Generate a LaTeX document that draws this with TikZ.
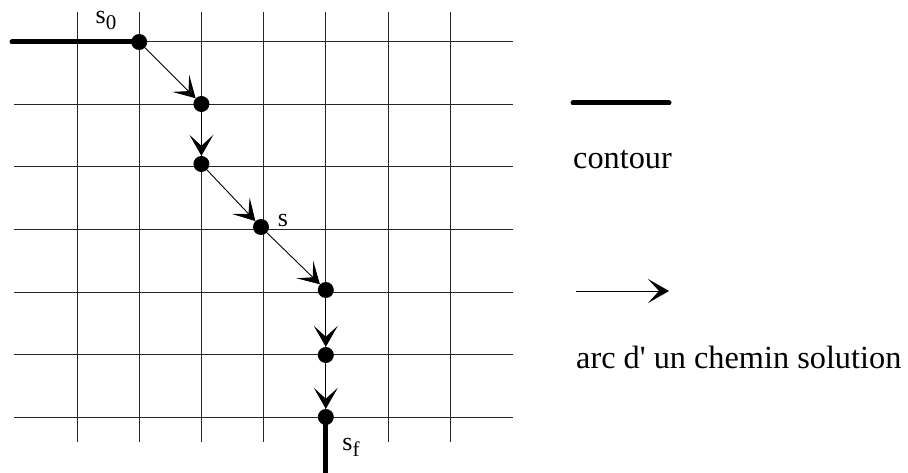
\documentclass[tikz,border=0pt]{standalone}
\usepackage{fontspec}
\setmainfont{Liberation Serif}
\usetikzlibrary{arrows.meta}
\newcommand{\lowsub}[1]{\raisebox{-6pt}{\fontsize{21}{23}\selectfont #1}}
\begin{document}
\begin{tikzpicture}[x=1pt,y=-1pt,
  gridline/.style={line width=1pt,black!85},
  dot/.style={circle,fill=black,inner sep=0pt,minimum size=16pt},
  arc/.style={line width=0.9pt,-{Stealth[length=21pt,width=24pt,inset=11pt]}},
  contourline/.style={line width=5pt,line cap=round},
  lbl/.style={inner sep=0pt,font=\fontsize{26}{28}\selectfont},
  leg/.style={inner sep=0pt,anchor=west,font=\fontsize{32.3}{36}\selectfont}]
\useasboundingbox (0,0) rectangle (908,473);
% grid
\foreach \i in {0,...,6} {
  \draw[gridline] ({77+62.2*\i},12) -- ({77+62.2*\i},442);
  \draw[gridline] (14,{42+62.5*\i}) -- (513,{42+62.5*\i});
}
% contour
\coordinate (cl) at (12,42);
\coordinate (cb) at (325.8,473);
\node[dot] (s0) at (139.2,42) {};
\node[dot] (n1) at (201.4,104) {};
\node[dot] (n2) at (201.4,164) {};
\node[dot] (s)  at (261,227) {};
\node[dot] (n4) at (325.8,290) {};
\node[dot] (n5) at (325.8,355) {};
\node[dot] (sf) at (325.8,417) {};
\draw[contourline] (cl) -- (s0.center);
\draw[line width=5pt] (sf.center) -- (cb);
% path
\draw[arc] (s0) -- (n1);
\draw[arc] (n1) -- (n2);
\draw[arc] (n2) -- (s);
\draw[arc] (s) -- (n4);
\draw[arc] (n4) -- (n5);
\draw[arc] (n5) -- (sf);
% labels
\node[lbl] (ls0) at (106,20) {s\lowsub{0}};
\node[lbl] (ls) at (283,221) {s};
\node[lbl] (lsf) at (351,447) {s\lowsub{f}};
% legend
\coordinate (lc1) at (573,103);
\coordinate (lc2) at (669,103);
\draw[contourline] (lc1) -- (lc2);
\node[leg] (tc) at (573,160) {contour};
\coordinate (la1) at (576,291);
\coordinate (la2) at (669,291);
\draw[arc] (la1) -- (la2);
\node[leg] (ta) at (576,357) {arc d\textquotesingle{} un chemin solution};
\end{tikzpicture}
\end{document}
